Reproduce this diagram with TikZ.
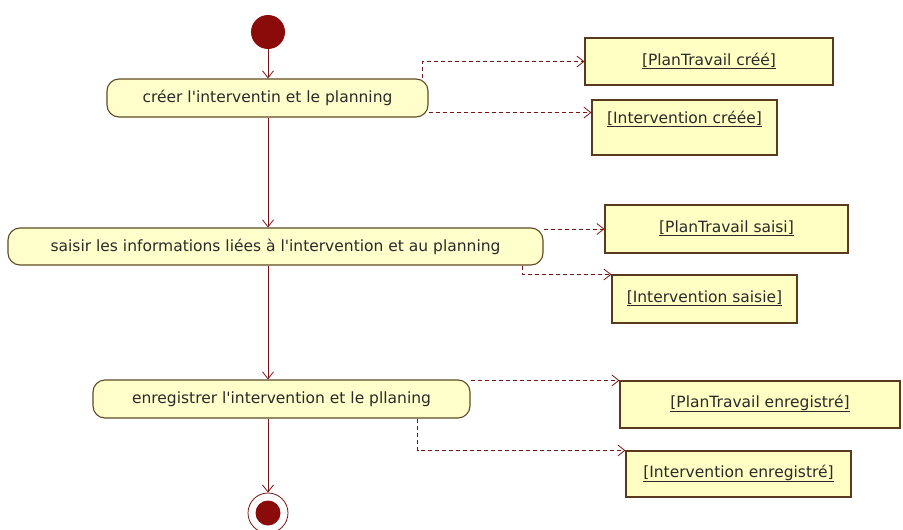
\documentclass[tikz,border=0pt]{standalone}
\usepackage{fontspec}
\setmainfont{DejaVu Sans}
\usetikzlibrary{arrows.meta,calc}
\definecolor{lnred}{HTML}{7A1414}
\definecolor{dotred}{HTML}{8B0A0A}
\definecolor{pillfill}{HTML}{FFFFCC}
\definecolor{pilldraw}{HTML}{5E4A22}
\definecolor{boxfill}{HTML}{FFFFC4}
\definecolor{boxdraw}{HTML}{5A3A1E}
\definecolor{txt}{HTML}{2A2A2A}
\newcommand{\apo}{\textquotesingle}
\begin{document}
\begin{tikzpicture}[x=1pt,y=-1pt,
  every node/.style={font=\fontsize{15.5}{18}\selectfont, text=txt},
  pill/.style={draw=pilldraw, line width=1.1pt, fill=pillfill, rounded corners=12pt,
    inner sep=0pt, minimum height=38pt},
  objbox/.style={draw=boxdraw, line width=1.1pt, fill=boxfill, inner xsep=0pt, inner ysep=0pt},
  flow/.style={draw=lnred, line width=1pt, -{Straight Barb[length=7pt,width=11pt,line width=0.8pt]}},
  objflow/.style={draw=lnred, line width=0.9pt, dash pattern=on 4pt off 3pt,
    -{Straight Barb[length=7pt,width=11pt,line width=0.8pt]}}
]
\useasboundingbox (0,0) rectangle (903,530);
\fill[white] (0,0) rectangle (903,530);

% initial and final nodes
\node[circle, fill=dotred, minimum size=34pt, inner sep=0pt] (init) at (268,32) {};
\node[circle, draw=lnred, fill=white, line width=0.8pt, minimum size=40pt, inner sep=0pt] (final) at (268,513) {};
\node[circle, fill=dotred, minimum size=25pt, inner sep=0pt] (finaldot) at (final.center) {};

% activities
\node[pill, minimum width=321pt] (act1) at (267.5,98) {créer l\apo interventin et le planning};
\node[pill, minimum width=535pt, minimum height=37pt] (act2) at (275.5,246.5) {saisir les informations liées à l\apo intervention et au planning};
\node[pill, minimum width=377pt] (act3) at (281.5,399) {enregistrer l\apo intervention et le pllaning};

% object nodes
\node[objbox, minimum width=248pt, text height=27pt, text depth=20pt] (o1) at (709,61.5) {\underline{[PlanTravail créé]}};
\node[objbox, minimum width=185pt, text height=23pt, text depth=32pt] (o2) at (684.5,127.5) {\underline{[Intervention créée]}};
\node[objbox, minimum width=243pt, text height=27pt, text depth=21pt] (o3) at (726.5,229) {\underline{[PlanTravail saisi]}};
\node[objbox, minimum width=185pt, text height=27pt, text depth=21pt] (o4) at (704.5,299) {\underline{[Intervention saisie]}};
\node[objbox, minimum width=280pt, text height=26pt, text depth=21pt] (o5) at (760,404.5) {\underline{[PlanTravail enregistré]}};
\node[objbox, minimum width=225pt, text height=26pt, text depth=20pt] (o6) at (738.5,474) {\underline{[Intervention enregistré]}};

% control flow
\draw[flow] (init) -- (init |- act1.north);
\draw[flow] (init |- act1.south) -- (init |- act2.north);
\draw[flow] (init |- act2.south) -- (init |- act3.north);
\draw[flow] (init |- act3.south) -- (final);

% object flow
\coordinate (s1) at ($(act1.north east)+(-6,0)$);
\draw[objflow] (s1) |- (o1.west);
\coordinate (s2) at ($(act1.south east)+(0,-5)$);
\draw[objflow] (s2) -- (s2 -| o2.west);
\draw[objflow] (o3.west -| act2.east) -- (o3.west);
\coordinate (s4) at ($(act2.south east)+(-21,0)$);
\draw[objflow] (s4) |- (o4.north west);
\coordinate (s5) at ($(act3.north east)+(0,1)$);
\draw[objflow] (s5) -- (s5 -| o5.west);
\coordinate (s6) at ($(act3.south east)+(-53,0)$);
\draw[objflow] (s6) |- (o6.north west);
\end{tikzpicture}
\end{document}
